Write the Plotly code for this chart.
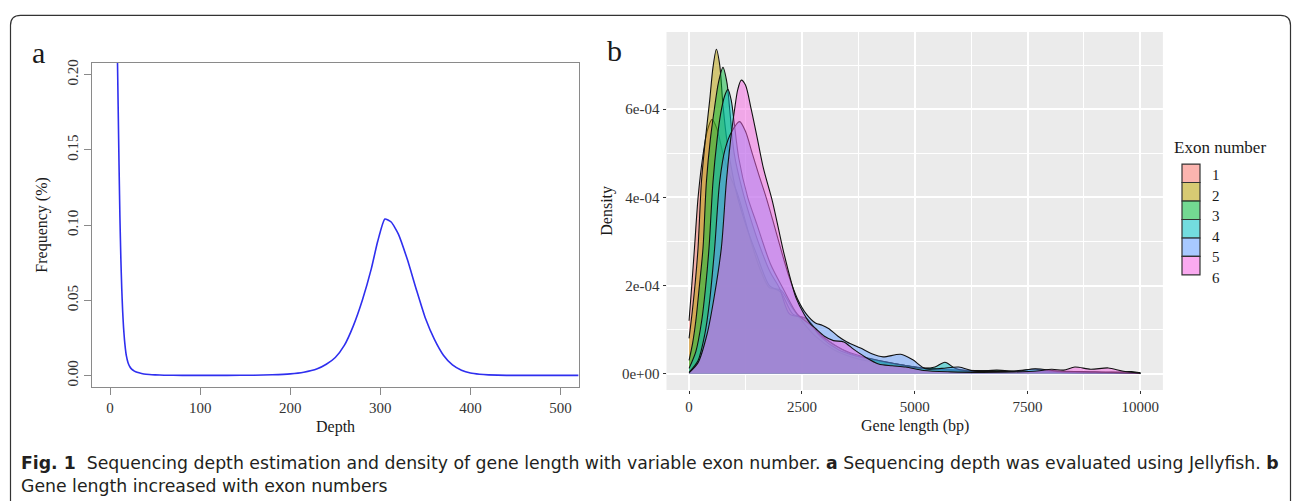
import plotly.graph_objects as go

W, H = 1293, 501

# ---------------- panel a data ----------------
depth = [7, 8, 9, 10, 11, 12, 13, 14, 15, 16, 17, 18, 20, 22, 24, 27, 30, 35, 40, 50, 60, 80, 100,
         130, 160, 180, 200, 215, 230, 240, 250, 260, 270, 280, 290, 297, 305, 312, 320, 330,
         340, 350, 360, 370, 380, 390, 400, 410, 420, 440, 480, 520]
freq = [0.26, 0.22, 0.18, 0.14, 0.105, 0.078, 0.058, 0.043, 0.032, 0.024, 0.018, 0.0135, 0.0085,
        0.0058, 0.0042, 0.0029, 0.0021, 0.0013, 0.0008, 0.0004, 0.0002, 0.0001, 0.0001,
        0.0001, 0.0002, 0.0005, 0.0011, 0.0022, 0.0045, 0.0075, 0.012, 0.020, 0.033, 0.050,
        0.071, 0.089, 0.104, 0.102, 0.094, 0.077, 0.057, 0.038, 0.024, 0.0135, 0.007, 0.0035,
        0.0016, 0.0008, 0.0004, 0.0001, 0.0001, 0.0001]
depth_ticks = [0, 100, 200, 300, 400, 500]
freq_ticks = [0.00, 0.05, 0.10, 0.15, 0.20]

# ---------------- panel b data (density in units of 1e-4) ----------------
exon_labels = ["1", "2", "3", "4", "5", "6"]
exon_colors = ["#F8766D", "#B79F00", "#00BA38", "#00BFC4", "#619CFF", "#F564E3"]

len_1 = [0, 60, 120, 200, 300, 400, 510, 620, 750, 900, 1050, 1185, 1400, 1600, 1780, 2030, 2250,
         2500, 2800, 3200, 3600, 4000, 4500, 5000, 5500, 6000, 7000, 8000, 9000, 10000]
dens_1 = [1.2, 2.0, 2.85, 4.0, 4.9, 5.5, 5.77, 5.55, 5.0, 4.5, 4.15, 3.7, 2.9, 2.3, 1.95, 1.9, 1.55,
          1.2, 0.85, 0.55, 0.38, 0.28, 0.2, 0.13, 0.09, 0.06, 0.05, 0.04, 0.03, 0.01]

len_2 = [0, 70, 140, 199, 274, 360, 457, 530, 605, 680, 751, 850, 950, 1050, 1250, 1500, 1780, 2030,
         2300, 2600, 2900, 3300, 3700, 4200, 4700, 5300, 6000, 7000, 8000, 9000, 10000]
dens_2 = [0.8, 1.4, 2.1, 2.85, 4.35, 5.3, 6.2, 6.95, 7.36, 7.0, 6.1, 5.2, 4.6, 4.1, 3.4, 2.7, 2.0, 1.85,
          1.35, 1.25, 0.9, 0.6, 0.4, 0.28, 0.2, 0.12, 0.08, 0.06, 0.04, 0.03, 0.01]

len_3 = [0, 80, 150, 230, 309, 384, 470, 560, 650, 751, 840, 900, 1000, 1185, 1400, 1600, 1800, 2000,
         2230, 2600, 2900, 3300, 3700, 4200, 4700, 5200, 5700, 6300, 6820, 7300, 8000, 9000, 9800, 10000]
dens_3 = [0.3, 0.7, 1.2, 2.0, 2.85, 4.35, 5.3, 6.0, 6.6, 6.95, 6.6, 6.0, 5.0, 4.15, 3.4, 2.8, 2.3, 1.95,
          1.35, 1.25, 0.85, 0.55, 0.4, 0.3, 0.2, 0.12, 0.08, 0.05, 0.08, 0.04, 0.03, 0.02, 0.05, 0.02]

len_4 = [0, 150, 280, 370, 442, 530, 620, 700, 788, 861, 935, 1000, 1100, 1300, 1500, 1800, 2100, 2400,
         2700, 3000, 3400, 3800, 4200, 4700, 5200, 5450, 5670, 5900, 6300, 7000, 7670, 8200, 9000, 10000]
dens_4 = [0.12, 0.5, 1.2, 2.0, 2.85, 4.35, 5.3, 5.9, 6.3, 6.45, 6.2, 5.7, 4.9, 4.0, 3.4, 2.5, 1.9, 1.35,
          1.1, 0.8, 0.55, 0.4, 0.3, 0.2, 0.12, 0.15, 0.26, 0.12, 0.05, 0.04, 0.1, 0.04, 0.02, 0.01]

len_5 = [0, 200, 350, 450, 567, 678, 800, 950, 1119, 1250, 1400, 1550, 1708, 1850, 2000, 2200, 2400,
         2600, 2800, 2950, 3100, 3300, 3500, 3800, 4050, 4300, 4690, 4950, 5240, 5600, 5976, 6300,
         6800, 7300, 7670, 8200, 9000, 10000]
dens_5 = [0.03, 0.3, 0.9, 1.6, 2.85, 4.35, 5.1, 5.5, 5.72, 5.5, 5.0, 4.5, 4.0, 3.5, 2.95, 2.25, 1.7,
          1.35, 1.15, 1.1, 1.02, 0.85, 0.72, 0.58, 0.45, 0.38, 0.44, 0.32, 0.11, 0.12, 0.15, 0.06,
          0.05, 0.06, 0.11, 0.06, 0.04, 0.01]

len_6 = [0, 200, 400, 550, 715, 826, 920, 1009, 1080, 1157, 1250, 1377, 1500, 1650, 1850, 2075, 2260,
         2370, 2550, 2700, 2810, 3000, 3200, 3430, 3650, 3900, 4200, 4500, 4800, 5200, 5800, 6500,
         7200, 7700, 8035, 8300, 8550, 8900, 9290, 9600, 10000]
dens_6 = [0.02, 0.25, 0.9, 1.7, 2.85, 4.35, 5.3, 6.0, 6.45, 6.66, 6.55, 6.0, 5.4, 4.65, 3.9, 2.85, 2.1,
          1.72, 1.35, 1.12, 1.02, 0.85, 0.75, 0.72, 0.55, 0.38, 0.22, 0.18, 0.15, 0.07, 0.04, 0.03,
          0.04, 0.06, 0.1, 0.08, 0.15, 0.1, 0.13, 0.06, 0.01]

gene_lengths = [len_1, len_2, len_3, len_4, len_5, len_6]
densities = [dens_1, dens_2, dens_3, dens_4, dens_5, dens_6]
DENS_UNIT = 1e-4
length_ticks = [0, 2500, 5000, 7500, 10000]
density_ticks = [0, 2e-4, 4e-4, 6e-4]
density_tick_text = ["0e+00", "2e-04", "4e-04", "6e-04"]


def px(x):
    return x / W


def py(y):
    return 1 - y / H


def rgba(hex_color, a):
    h = hex_color.lstrip("#")
    r, g, b = int(h[0:2], 16), int(h[2:4], 16), int(h[4:6], 16)
    return f"rgba({r},{g},{b},{a})"


SERIF = "Liberation Serif, Times New Roman, serif"
SANS = "DejaVu Sans, Open Sans, sans-serif"

fig = go.Figure()

fig.add_trace(go.Scatter(
    x=depth, y=freq, mode="lines",
    line=dict(color="#2F2FEF", width=1.6, shape="spline", smoothing=0.5),
    xaxis="x", yaxis="y", showlegend=False, hoverinfo="skip"))

for lab, col, xs, ys in zip(exon_labels, exon_colors, gene_lengths, densities):
    fig.add_trace(go.Scatter(
        x=xs, y=[v * DENS_UNIT for v in ys], mode="lines", name=lab,
        fill="tozeroy", fillcolor=rgba(col, 0.5),
        line=dict(color="#111111", width=1.1, shape="spline", smoothing=0.8),
        xaxis="x2", yaxis="y2", showlegend=False, hoverinfo="skip"))

tickfont = dict(family=SERIF, size=15, color="#333333")

fig.update_layout(
    width=W, height=H,
    margin=dict(l=0, r=0, t=0, b=0),
    paper_bgcolor="white", plot_bgcolor="rgba(0,0,0,0)",
    showlegend=False,
    xaxis=dict(domain=[px(92), px(578.6)], range=[-20, 520], anchor="y",
               tickmode="array", tickvals=depth_ticks, ticktext=[str(t) for t in depth_ticks],
               ticks="outside", ticklen=7, tickcolor="#8a8a8a", tickwidth=1,
               showline=True, linecolor="#8a8a8a", linewidth=1, mirror=True,
               showgrid=False, zeroline=False, tickfont=tickfont),
    yaxis=dict(domain=[py(386.7), py(60)], range=[-0.0079, 0.2079], anchor="x",
               tickmode="array", tickvals=freq_ticks,
               ticktext=[f"{t:.2f}" for t in freq_ticks], tickangle=-90,
               ticks="outside", ticklen=7, tickcolor="#8a8a8a", tickwidth=1,
               showline=True, linecolor="#8a8a8a", linewidth=1, mirror=True,
               showgrid=False, zeroline=False, tickfont=tickfont),
    xaxis2=dict(domain=[px(666.5), px(1162.9)], range=[-500, 10500], anchor="y2",
                tickmode="array", tickvals=length_ticks, ticktext=[str(t) for t in length_ticks],
                ticks="outside", ticklen=3, tickcolor="#333333", tickwidth=1,
                showline=False, showgrid=True, gridcolor="white", gridwidth=1.6,
                minor=dict(tickmode="linear", tick0=0, dtick=1250, showgrid=True,
                           gridcolor="white", gridwidth=0.8, ticks=""),
                zeroline=False, tickfont=tickfont),
    yaxis2=dict(domain=[py(389.3), py(29.3)], range=[-0.37e-4, 7.75e-4], anchor="x2",
                tickmode="array", tickvals=density_ticks, ticktext=density_tick_text,
                ticks="outside", ticklen=3, tickcolor="#333333", tickwidth=1,
                showline=False, showgrid=True, gridcolor="white", gridwidth=1.6,
                minor=dict(tickmode="linear", tick0=0, dtick=1e-4, showgrid=True,
                           gridcolor="white", gridwidth=0.8, ticks=""),
                zeroline=False, tickfont=tickfont),
)

shapes = []
# grey panel background for b
shapes.append(dict(type="rect", xref="x2 domain", yref="y2 domain", x0=0, x1=1, y0=0, y1=1,
                   fillcolor="#EBEBEB", line=dict(width=0), layer="below"))

# legend keys
key_x0, key_x1 = 1182, 1200
key_top, key_h = 162, 18.6
for i, col in enumerate(exon_colors):
    y0 = key_top + i * key_h
    shapes.append(dict(type="rect", xref="paper", yref="paper",
                       x0=px(key_x0), x1=px(key_x1), y0=py(y0 + key_h), y1=py(y0),
                       fillcolor=rgba(col, 0.55), line=dict(color="#333333", width=1.2)))

# outer frame with rounded top corners
x0, x1, yt = px(10.5), px(1290.5), py(12.5)
rx, ry = 10 / W, 10 / H
path = (f"M {x0},-0.05 L {x0},{yt - ry} Q {x0},{yt} {x0 + rx},{yt} "
        f"L {x1 - rx},{yt} Q {x1},{yt} {x1},{yt - ry} L {x1},-0.05")
shapes.append(dict(type="path", xref="paper", yref="paper", path=path,
                   line=dict(color="#333333", width=1.2)))

annotations = []


def ann(text, x, y, size, family=SERIF, angle=0, xanchor="center", color="#1a1a1a"):
    annotations.append(dict(text=text, x=px(x), y=py(y), xref="paper", yref="paper",
                            showarrow=False, xanchor=xanchor, yanchor="middle",
                            textangle=angle, font=dict(family=family, size=size, color=color)))


ann("a", 38, 50, 30)
ann("b", 614, 48, 30)
ann("Frequency (%)", 42, 223, 16, angle=-90)
ann("Depth", 335, 427, 16)
ann("Density", 607, 209, 16, angle=-90)
ann("Gene length (bp)", 915, 426, 16)
ann("Exon number", 1172, 145, 17, xanchor="left")
for i, lab in enumerate(exon_labels):
    ann(lab, 1210, 173 + 20.7 * i, 15, xanchor="left")

cap1 = ("<b>Fig. 1</b>  Sequencing depth estimation and density of gene length with variable exon number. "
        "<b>a</b> Sequencing depth was evaluated using Jellyfish. <b>b</b>")
cap2 = "Gene length increased with exon numbers"
ann(cap1, 19, 463, 17.3, family=SANS, xanchor="left", color="#231F20")
ann(cap2, 19, 486, 17.3, family=SANS, xanchor="left", color="#231F20")

fig.update_layout(shapes=shapes, annotations=annotations)

fig.write_html("out.html", config={"displayModeBar": False},
               post_script="document.body.style.margin='0px';")
